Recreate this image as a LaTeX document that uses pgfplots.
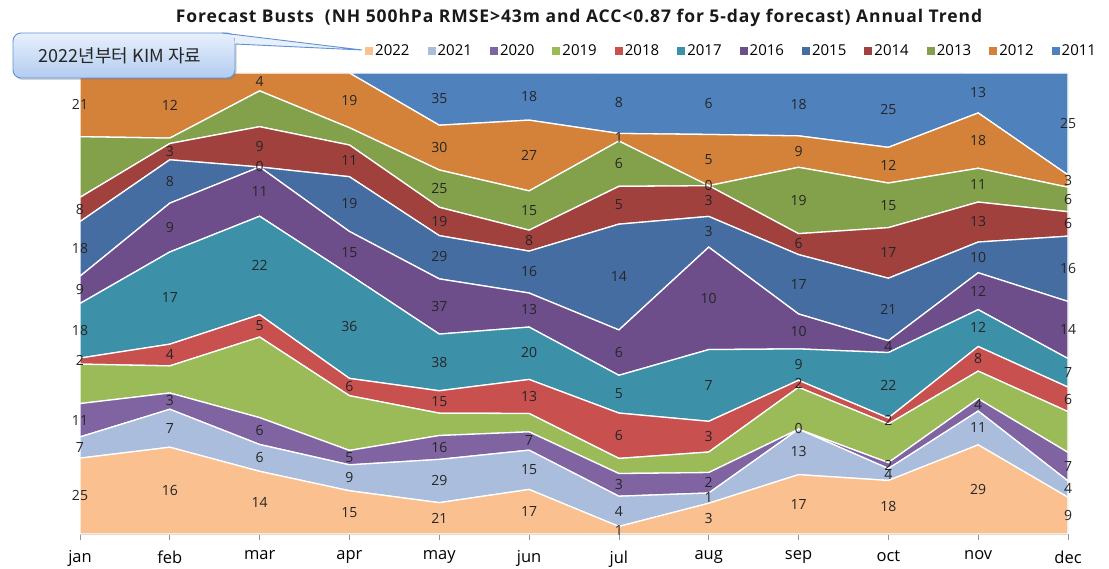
\documentclass[border=0pt]{standalone}
\usepackage{pgfplots}
\usepackage{pgfplotstable}
\pgfplotsset{compat=1.18}
\usepackage{fontspec}
\setmainfont{Open Sans}
\newfontfamily\kor{Noto Sans CJK KR}
\usetikzlibrary{shadows}

\definecolor{c22}{RGB}{250,192,143}
\definecolor{c21}{RGB}{170,189,220}
\definecolor{c20}{RGB}{128,100,162}
\definecolor{c19}{RGB}{155,187,89}
\definecolor{c18}{RGB}{200,80,79}
\definecolor{c17}{RGB}{60,144,168}
\definecolor{c16}{RGB}{109,78,139}
\definecolor{c15}{RGB}{70,109,162}
\definecolor{c14}{RGB}{160,65,62}
\definecolor{c13}{RGB}{131,161,74}
\definecolor{c12}{RGB}{212,130,58}
\definecolor{c11}{RGB}{79,129,189}
\definecolor{boxtop}{RGB}{232,240,252}
\definecolor{boxbot}{RGB}{178,204,240}
\definecolor{boxline}{RGB}{95,145,215}

\pgfplotstableread{
m v22 v21 v20 v19 v18 v17 v16 v15 v14 v13 v12 v11
0 25 7 11 13 2 18 9 18 8 20 21 0
1 16 7 3 5 4 17 9 8 3 1 12 0
2 14 6 6 18 5 22 11 0 9 8 4 0
3 15 9 5 19 6 36 15 19 11 6 19 0
4 21 29 16 15 15 38 37 29 19 25 30 35
5 17 15 7 7 13 20 13 16 8 15 27 18
6 1 4 3 2 6 5 6 14 5 6 1 8
7 3 1 2 2 3 7 10 3 3 0 5 6
8 17 13 0 12 2 9 10 17 6 19 9 18
9 18 4 2 13 2 22 4 21 17 15 12 25
10 29 11 4 9 8 12 12 10 13 11 18 13
11 9 4 7 10 6 7 14 16 6 6 3 25
}\data
\pgfplotstablecreatecol[create col/expr={\thisrow{v22}}]{c22}\data
\pgfplotstablecreatecol[create col/expr={\thisrow{c22}+\thisrow{v21}}]{c21}\data
\pgfplotstablecreatecol[create col/expr={\thisrow{c21}+\thisrow{v20}}]{c20}\data
\pgfplotstablecreatecol[create col/expr={\thisrow{c20}+\thisrow{v19}}]{c19}\data
\pgfplotstablecreatecol[create col/expr={\thisrow{c19}+\thisrow{v18}}]{c18}\data
\pgfplotstablecreatecol[create col/expr={\thisrow{c18}+\thisrow{v17}}]{c17}\data
\pgfplotstablecreatecol[create col/expr={\thisrow{c17}+\thisrow{v16}}]{c16}\data
\pgfplotstablecreatecol[create col/expr={\thisrow{c16}+\thisrow{v15}}]{c15}\data
\pgfplotstablecreatecol[create col/expr={\thisrow{c15}+\thisrow{v14}}]{c14}\data
\pgfplotstablecreatecol[create col/expr={\thisrow{c14}+\thisrow{v13}}]{c13}\data
\pgfplotstablecreatecol[create col/expr={\thisrow{c13}+\thisrow{v12}}]{c12}\data
\pgfplotstablecreatecol[create col/expr={\thisrow{c12}+\thisrow{v11}}]{c11}\data

\newcommand\areaplot[1]{\addplot[fill=c#1, draw=white, line width=1.3pt] table[x=m, y expr=\thisrow{v#1}/\thisrow{c11}*100]{\data} \closedcycle;}
\newcommand\lab[2][]{\addplot[draw=none, #1, nodes near coords, point meta=explicit] table[x=m, y expr={(\thisrow{c#2}-0.5*\thisrow{v#2})/\thisrow{c11}*100}, meta=v#2]{\data};}

\pgfplotsset{
  base/.style={
    scale only axis, width=988pt, height=461pt,
    at={(80pt,34pt)}, anchor=south west,
    xmin=0, xmax=11, ymin=0, ymax=100,
    /pgf/number format/assume math mode=true,
  }
}

\begin{document}
\begin{tikzpicture}
\path[use as bounding box] (0,0) rectangle (1109pt,568pt);
\begin{axis}[base,
  stack plots=y,
  axis x line*=bottom, axis y line=none,
  axis line style={draw=gray!85, line width=0.8pt},
  xtick={0,...,11},
  xticklabels={jan,feb,mar,apr,may,jun,jul,aug,sep,oct,nov,dec},
  xtick style={draw=gray!85, line width=0.8pt},
  major tick length=6pt, tick align=outside,
  xticklabel style={font=\fontsize{16.5}{16.5}\selectfont, text=black, yshift=-7pt},
  legend columns=12,
  legend style={at={(0.2885,1.0477)}, anchor=west, draw=none, fill=none,
    inner sep=0pt, font=\fontsize{15}{15}\selectfont,
    /tikz/every even column/.append style={column sep=16.1pt}},
  legend image code/.code={\path[#1, draw=none] (0pt,-4pt) rectangle (8pt,4pt);},
]
\areaplot{22}\addlegendentry{2022}
\areaplot{21}\addlegendentry{2021}
\areaplot{20}\addlegendentry{2020}
\areaplot{19}\addlegendentry{2019}
\areaplot{18}\addlegendentry{2018}
\areaplot{17}\addlegendentry{2017}
\areaplot{16}\addlegendentry{2016}
\areaplot{15}\addlegendentry{2015}
\areaplot{14}\addlegendentry{2014}
\areaplot{13}\addlegendentry{2013}
\areaplot{12}\addlegendentry{2012}
\areaplot{11}\addlegendentry{2011}
\end{axis}
\begin{axis}[base, axis lines=none, clip=false,
  every node near coord/.append style={font=\fontsize{14}{14}\selectfont, text=black!85, inner sep=0pt, yshift=-5pt}]
\lab{22}
\lab{21}
\lab{20}
\lab{18}
\lab{17}
\lab{16}
\lab{15}
\lab{14}
\lab[restrict x to domain=3.5:11.5]{13}
\lab{12}
\lab[restrict x to domain=3.5:11.5]{11}
\end{axis}
\node[anchor=base, font=\bfseries\fontsize{17.5}{17.5}\selectfont\addfontfeatures{LetterSpace=5.3}, text=black!90] at (579pt,545pt)
  {Forecast Busts\ \ (NH 500hPa RMSE>43m and ACC<0.87 for 5-day forecast) Annual Trend};
\draw[rounded corners=8pt, top color=boxtop, bottom color=boxbot, draw=boxline, line width=0.9pt,
  drop shadow={opacity=0.35, shadow xshift=1.5pt, shadow yshift=-2pt}]
  (13pt,490pt) rectangle (235pt,535pt);
\fill[boxtop] (222pt,534.5pt) -- (362pt,518pt) -- (234.5pt,524pt) -- (234.5pt,530pt) -- cycle;
\draw[boxline, line width=0.9pt] (222pt,535pt) -- (362pt,518pt) -- (235pt,524pt);
\node[font=\kor\fontsize{18}{18}\selectfont, text=black!85] at (120pt,512pt) {2022년부터 KIM 자료};
\end{tikzpicture}
\end{document}
